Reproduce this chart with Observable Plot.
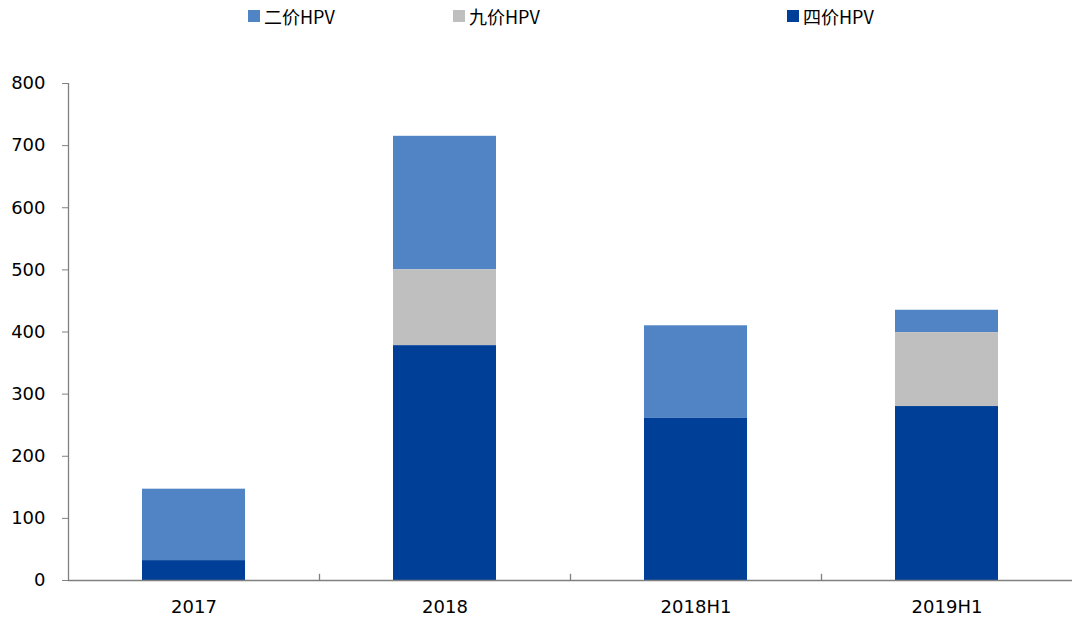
<!DOCTYPE html>
<html>
<head>
<meta charset="utf-8">
<script src="https://cdn.jsdelivr.net/npm/d3@7"></script>
<script src="https://cdn.jsdelivr.net/npm/@observablehq/plot@0.6"></script>
<style>
  html, body { margin: 0; padding: 0; background: #fff; }
  #wrap { position: relative; width: 1072px; height: 623px; font-family: "DejaVu Sans", "Noto Sans CJK SC", sans-serif; }
  #legend { position: relative; height: 36px; }
  .item { position: absolute; top: 3px; display: flex; align-items: center; font-size: 18px; color: #000; font-family: "Noto Sans CJK SC", "DejaVu Sans", sans-serif; }
  .sw { width: 12px; height: 12px; margin-right: 4px; }
</style>
</head>
<body>
<div id="wrap">
  <div id="legend"></div>
  <div id="chart"></div>
</div>
<script>
const categories = ["2017", "2018", "2018H1", "2019H1"];
const series = ["二价HPV", "九价HPV", "四价HPV"];
const stackOrder = ["四价HPV", "九价HPV", "二价HPV"];
const colors = ["#5084C5", "#BFBFBF", "#003F97"];
const bivalent = [115, 215, 149, 36];
const nonavalent = [0, 122, 0, 119];
const quadrivalent = [32, 378, 261, 280];
const yTicks = [0, 100, 200, 300, 400, 500, 600, 700, 800];
const legendLeft = [248, 453, 787];

const valuesBySeries = {"二价HPV": bivalent, "九价HPV": nonavalent, "四价HPV": quadrivalent};
const data = [];
categories.forEach((c, i) => {
  series.forEach(s => data.push({category: c, series: s, value: valuesBySeries[s][i]}));
});

const legend = document.getElementById("legend");
series.forEach((s, i) => {
  const it = document.createElement("div");
  it.className = "item";
  it.style.left = legendLeft[i] + "px";
  const sw = document.createElement("div");
  sw.className = "sw";
  sw.style.background = colors[i];
  it.appendChild(sw);
  const t = document.createElement("span");
  t.textContent = s;
  it.appendChild(t);
  legend.appendChild(it);
});

const width = 1072, marginLeft = 68, marginRight = 0;
const halfStep = (width - marginLeft - marginRight) / categories.length / 2;

const chart = Plot.plot({
  width,
  height: 587,
  marginTop: 47,
  marginBottom: 43,
  marginLeft,
  marginRight,
  style: {fontFamily: "DejaVu Sans, sans-serif", fontSize: "18px", color: "#000", background: "#fff"},
  x: {domain: categories, paddingInner: 0.59, paddingOuter: 0.295, label: null},
  y: {domain: [0, 800], label: null},
  color: {domain: series, range: colors},
  marks: [
    Plot.barY(data, Plot.stackY({order: stackOrder}, {x: "category", y: "value", fill: "series", z: "series"})),
    Plot.ruleY([0], {stroke: "#808080", strokeWidth: 1.3}),
    Plot.ruleX(categories.slice(0, 3), {x: d => d, dx: halfStep, y1: 0, y2: 10, stroke: "#808080", strokeWidth: 1.3}),
    Plot.ruleX(categories.slice(0, 1), {x: d => d, dx: -halfStep, y1: 0, y2: 800, stroke: "#808080", strokeWidth: 1.3}),
    Plot.axisY({ticks: yTicks, tickSize: 6, tickPadding: 17, stroke: "#808080", fontSize: 18, label: null}),
    Plot.axisX({tickSize: 0, tickPadding: 20, fontSize: 18, label: null})
  ]
});
document.getElementById("chart").appendChild(chart);
</script>
</body>
</html>
